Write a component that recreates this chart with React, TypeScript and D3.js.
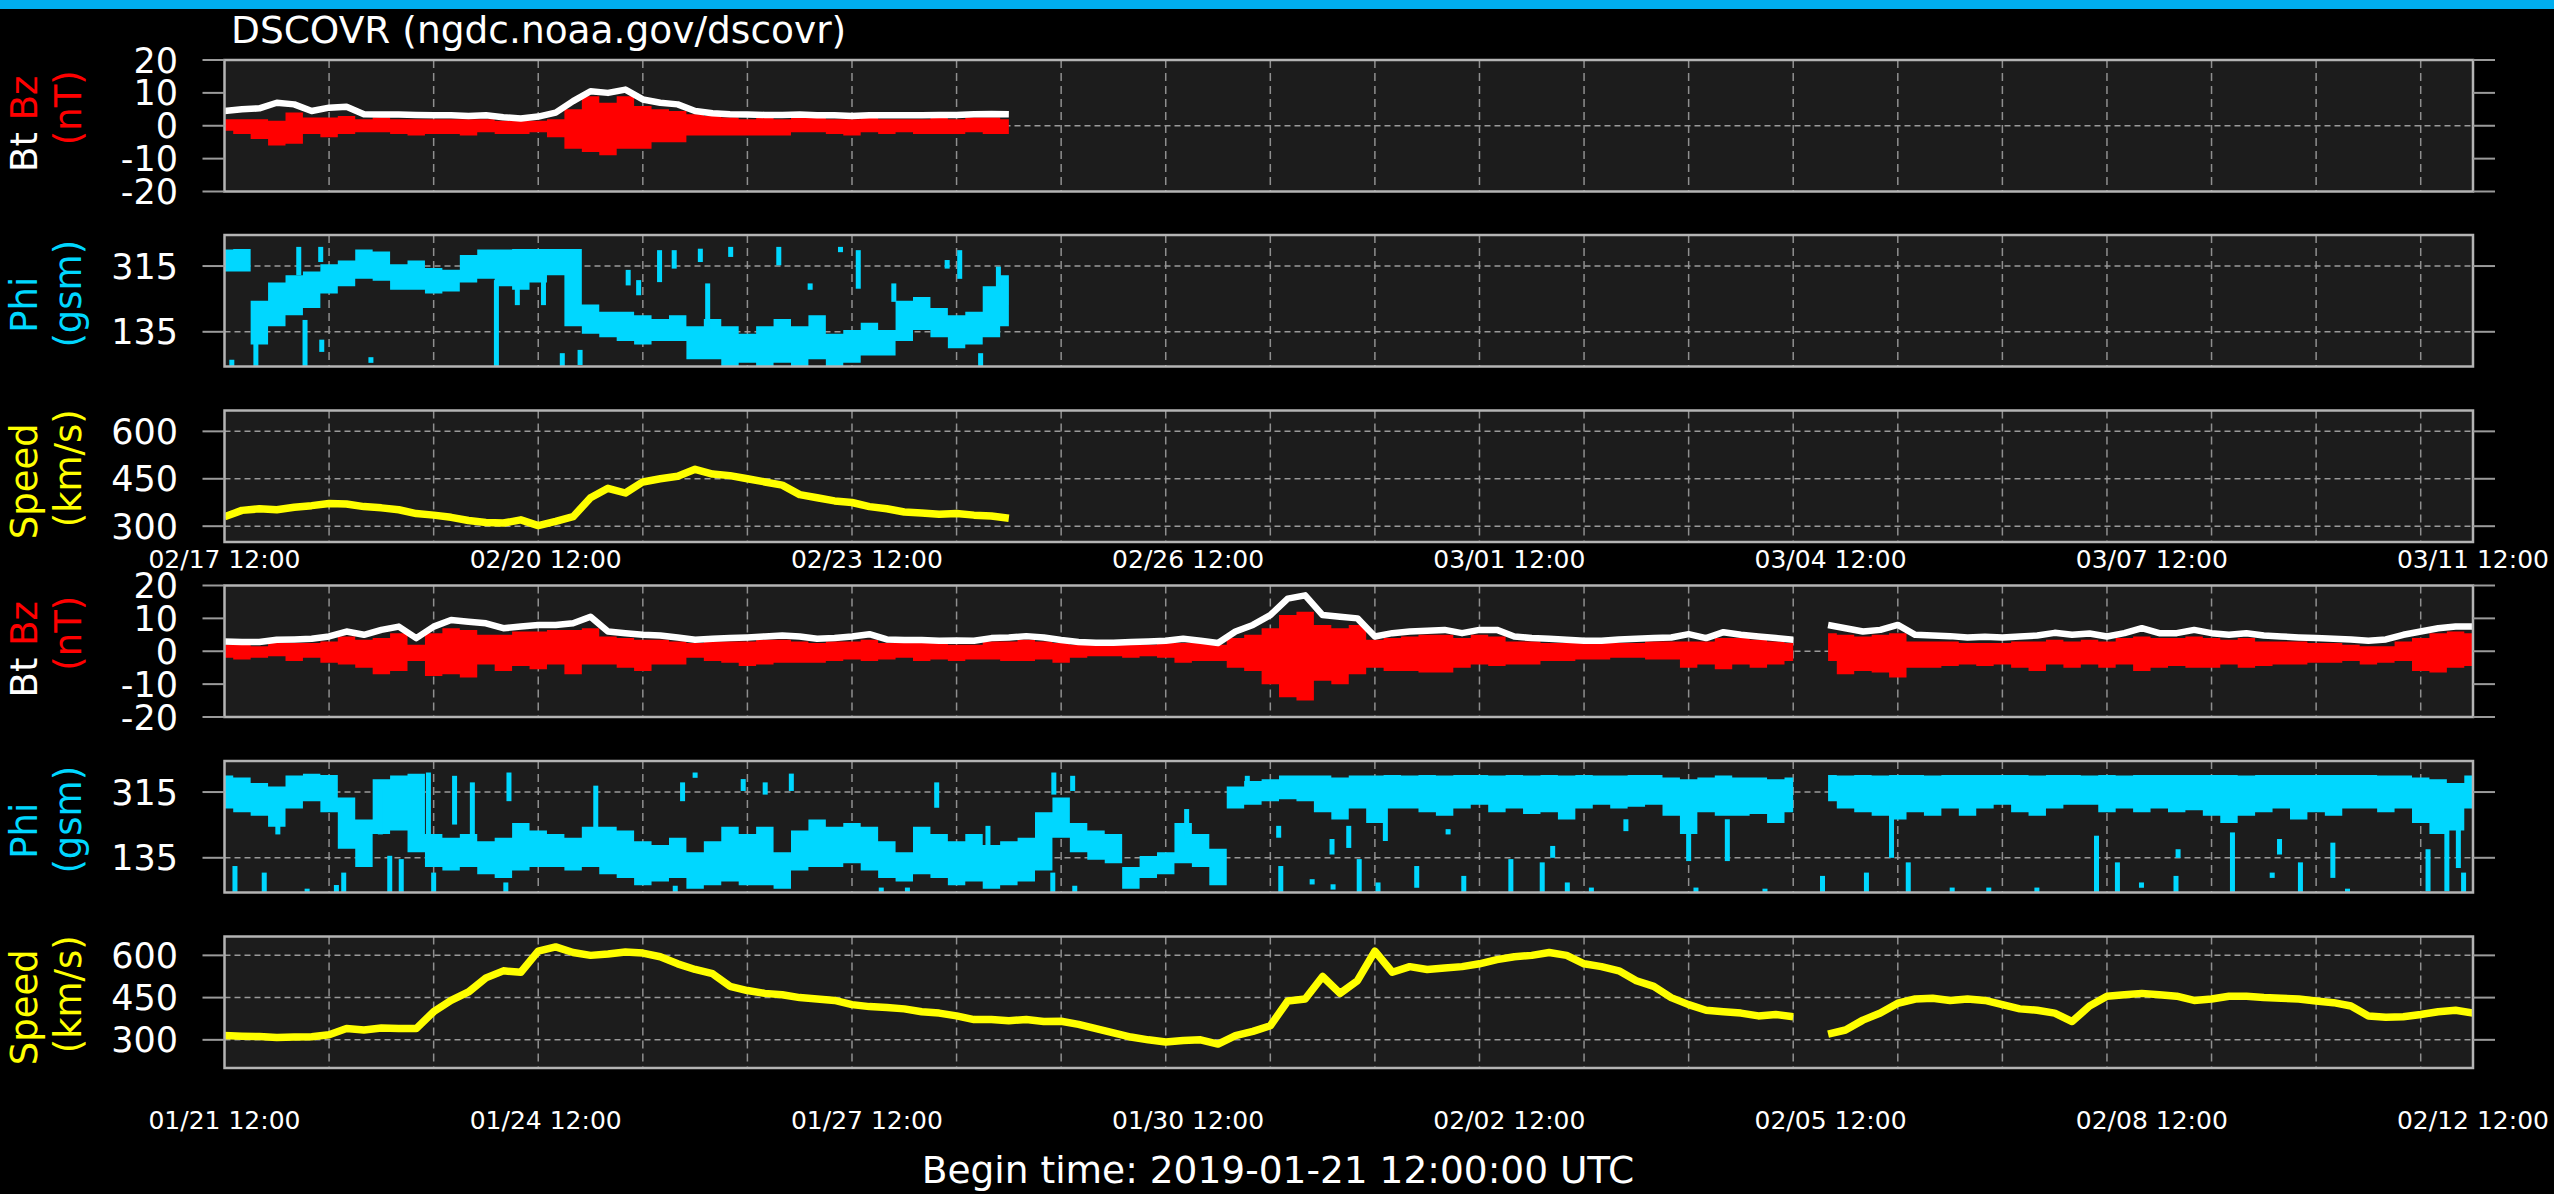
import React from "react";
import * as d3 from "d3";

const WIDTH = 2554;
const HEIGHT = 1194;

// each half covers 21.5 days, values read every 4 hours
const SPAN_DAYS = 21.5;
const STEP_DAYS = 4 / 24;

const title = "DSCOVR (ngdc.noaa.gov/dscovr)";
const beginTime = "Begin time: 2019-01-21 12:00:00 UTC";

const topDateLabels = ["02/17 12:00", "02/20 12:00", "02/23 12:00", "02/26 12:00", "03/01 12:00", "03/04 12:00", "03/07 12:00", "03/11 12:00"];
const bottomDateLabels = ["01/21 12:00", "01/24 12:00", "01/27 12:00", "01/30 12:00", "02/02 12:00", "02/05 12:00", "02/08 12:00", "02/12 12:00"];

const btBzTicks = [20, 10, 0, -10, -20];
const phiTicks = [315, 135];
const speedTicks = [600, 450, 300];

// ---- top half: from 02/17 12:00 (data stops after 7.5 days)
const topSpeed = [330, 350, 355, 352, 360, 365, 372, 370, 362, 358, 352, 340, 335, 328, 318, 312, 310, 320, 302, 315, 330, 390, 420, 405, 440, 450, 458, 480, 465, 460, 450, 440, 430, 400, 390, 380, 375, 362, 355, 345, 342, 338, 340, 335, 332, 325];
const topBt = [4.5, 5, 5.3, 7, 6.5, 4.5, 5.5, 5.8, 3.5, 3.4, 3.4, 3.3, 3.2, 3.2, 3, 3.2, 2.6, 2.2, 2.8, 4, 7.5, 10.5, 10, 11, 8, 7, 6.5, 4.5, 3.8, 3.5, 3.4, 3.3, 3.3, 3.4, 3.2, 3.2, 3, 3.2, 3.2, 3.2, 3.2, 3.3, 3.3, 3.5, 3.6, 3.5];
const topBzLo = [-1.5, -2.5, -4, -6, -5.5, -2.5, -3.5, -2.5, -2, -2, -2.5, -3, -2.5, -2.5, -3, -2, -2.5, -2.5, -2, -3.5, -7, -8, -9, -7, -7, -5, -5, -3, -3, -3, -3, -3, -3, -2, -2, -2.5, -3, -2, -2.5, -2, -2.5, -2.5, -2.5, -2, -2.5, -2.5];
const topBzHi = [2, 2, 2, 1.5, 4, 2.5, 2.5, 3, 2, 2.5, 2, 2, 2, 2, 2, 2, 1.5, 1.5, 1.5, 2, 5, 9, 7, 9, 6, 5, 4.5, 3.5, 3, 2.5, 2, 2.5, 2, 2.5, 2.5, 2, 2, 2.5, 2, 2, 2, 2.5, 2, 2.5, 2.5, 2];
const topPhiLo = [300, 300, 100, 150, 180, 200, 240, 260, 280, 275, 250, 250, 240, 245, 270, 280, 260, 250, 270, 290, 150, 130, 120, 110, 100, 110, 110, 60, 60, 40, 50, 40, 50, 40, 60, 40, 50, 70, 70, 110, 140, 120, 90, 100, 120, 150];
const topPhiHi = [360, 362, 220, 270, 290, 300, 320, 330, 360, 355, 320, 330, 310, 305, 345, 360, 360, 362, 362, 362, 362, 210, 190, 190, 180, 170, 180, 150, 170, 150, 130, 150, 170, 150, 180, 130, 140, 160, 140, 220, 230, 200, 180, 190, 260, 290];
// [day, low, high] stray phi streaks
const topPhiSpecks = [
  [0.07, 40, 53], [0.3, 40, 144], [0.71, 290, 362], [0.77, 40, 162], [0.92, 326, 362], [0.93, 80, 108],
  [1.4, 50, 60], [2.6, 40, 271], [2.8, 208, 271], [3.05, 208, 271], [3.23, 40, 71], [3.4, 44, 80],
  [3.86, 262, 299], [3.96, 235, 271], [4.16, 271, 353], [4.3, 308, 353], [4.55, 326, 357], [4.62, 135, 262],
  [4.84, 340, 362], [5.3, 317, 362], [5.6, 250, 262], [5.89, 353, 362], [6.06, 253, 353], [6.4, 217, 262],
  [6.91, 308, 326], [7.03, 280, 353], [7.23, 40, 71], [7.4, 235, 308], [7.47, 208, 271],
];

// ---- bottom half: from 01/21 12:00
const bottomSpeed = [
  315, 313, 312, 308, 310, 311, 318, 340, 335, 342, 340, 340, 400, 440, 470, 520, 545, 540, 615, 630, 610, 600, 605, 612, 608, 595, 570, 550, 535, 490, 475, 465, 460, 450, 445, 440, 425, 418, 415, 410, 400, 395, 385, 372,
  372, 368, 372, 365, 366, 355, 340, 325, 310, 300, 292, 298, 300, 285, 315, 330, 350, 438, 445, 525, 465, 510, 615, 540, 560, 550, 555, 560, 570, 585, 595, 600, 610, 600, 570, 560, 545, 510, 490, 450, 425, 405, 400,
  395, 385, 390, 382, null, 320, 335, 370, 395, 430, 445, 448, 440, 445, 440, 425, 410, 405, 395, 365, 420, 455, 460, 465, 460, 455, 440, 445, 455, 455, 450, 448, 445, 438, 432, 420, 385, 380, 382, 390, 400, 405, 395,
];
const bottomBt = [
  3, 2.8, 2.8, 3.5, 3.6, 3.8, 4.5, 6, 5, 6.5, 7.5, 4, 7.5, 9.5, 9, 8.5, 7, 7.5, 8, 8, 8.5, 10.5, 6, 5.5, 5, 4.8, 4.2, 3.5, 3.8, 4, 4.2, 4.5, 4.8, 4.5, 3.8, 4, 4.5, 5.2, 3.6, 3.4, 3.4, 3.2, 3.3, 3.2,
  4, 4.2, 4.6, 4.2, 3.4, 2.8, 2.6, 2.6, 2.8, 3, 3.2, 3.8, 3.2, 2.5, 6, 8, 11, 16, 17, 11, 10.5, 10, 4.5, 5.5, 6, 6.2, 6.5, 5.5, 6.5, 6.5, 4.5, 4, 3.8, 3.5, 3.2, 3.2, 3.6, 3.8, 4, 4.2, 5.2, 4, 5.8,
  5, 4.5, 4, 3.5, null, 8, 7, 6, 6.5, 8, 5, 4.8, 4.6, 4.2, 4.4, 4.2, 4.5, 4.8, 5.6, 5, 5.4, 4.5, 5.5, 7, 5.5, 5.5, 6.5, 5.5, 5, 5.5, 4.8, 4.5, 4.2, 4, 3.8, 3.6, 3.2, 3.6, 5, 6, 7, 7.5, 7.5,
];
const bottomBzLo = [
  -2, -2.5, -2, -1.5, -3, -2, -3.5, -4, -5, -7, -6, -3, -7.5, -7, -8, -4, -6, -4.5, -5.5, -4, -7, -4, -4, -5, -6, -4, -4, -2, -3, -3.5, -4.5, -4, -3.5, -3.5, -3.5, -3, -2.5, -3, -2.5, -2, -3, -2.5, -3, -2.5,
  -2.5, -3, -3, -2.5, -3.5, -2, -1.5, -1.5, -2, -1.5, -2, -3.5, -3, -3, -5, -6, -10, -14, -15, -9, -10, -7, -5, -6, -6, -6.5, -6.5, -5, -4, -4.5, -4, -4, -3, -3, -2.5, -2.5, -2, -2, -2.5, -2.5, -5, -4, -5.5,
  -4, -5, -4, -3, null, -3, -7, -6, -6.5, -8, -5, -5, -4.5, -4, -4.5, -4, -5, -6, -4, -5, -4, -5, -4, -6, -5, -4.5, -5, -5, -4, -5, -4.5, -4, -4, -3.5, -3.5, -3, -4, -3.5, -3, -6, -6.5, -5, -4.5,
];
const bottomBzHi = [
  2, 2, 1.5, 2.5, 2.5, 2.5, 3, 4.5, 3.5, 4, 5.5, 2, 5.5, 7, 6.5, 5, 5, 6, 6, 6.5, 6.5, 7, 4.5, 4, 3.5, 3.5, 3, 2.5, 3, 3, 3, 3.5, 3.5, 3, 2.5, 3, 3, 3.5, 2.5, 2.5, 2.5, 2.5, 2, 2,
  3, 3, 3.5, 3, 2.5, 2, 2, 2, 2, 2, 2.5, 2.5, 2.5, 2, 4, 5, 7, 11, 12, 8, 7, 8, 3.5, 4, 4.5, 5, 5, 4, 5, 4.5, 3, 3, 2.5, 2.5, 2.5, 2.5, 2.5, 2.5, 3, 3, 3, 3, 4,
  4, 3.5, 3, 2.5, null, 5.5, 5, 4.5, 5, 5.5, 3, 3, 3, 2.5, 2.5, 2.5, 3, 3, 3.5, 3, 3.5, 3, 4, 4.5, 4, 4, 4.5, 4, 3.5, 4, 3, 3, 3, 2.5, 2.5, 2, 1.5, 1.5, 3, 4, 5.5, 6, 5.5,
];
const bottomPhiLo = [
  270, 260, 250, 220, 270, 290, 260, 160, 110, 200, 210, 150, 110, 100, 110, 90, 80, 100, 110, 110, 100, 110, 90, 80, 60, 70, 80, 50, 60, 70, 60, 60, 50, 100, 110, 110, 120, 100, 80, 70, 90, 80, 60, 70,
  50, 60, 70, 100, 190, 150, 130, 120, 50, 80, 90, 120, 110, 60, 270, 280, 290, 295, 290, 260, 240, 270, 230, 270, 270, 260, 250, 270, 280, 260, 270, 255, 260, 240, 270, 280, 270, 275, 280, 250, 200, 260, 250,
  250, 255, 230, 260, null, 290, 270, 260, 250, 240, 260, 250, 270, 250, 270, 280, 260, 250, 270, 280, 280, 260, 270, 260, 270, 260, 265, 250, 230, 250, 260, 270, 240, 260, 250, 270, 270, 260, 270, 230, 200, 210, 270,
];
const bottomPhiHi = [
  360, 355, 340, 330, 360, 365, 362, 300, 240, 350, 360, 365, 200, 190, 200, 180, 190, 230, 210, 200, 190, 220, 220, 210, 180, 170, 190, 150, 180, 220, 200, 220, 150, 210, 240, 220, 230, 220, 180, 150, 220, 200, 180, 200,
  170, 180, 190, 260, 300, 230, 210, 200, 110, 140, 150, 230, 200, 160, 330, 345, 350, 360, 360, 360, 355, 360, 360, 362, 360, 362, 360, 362, 362, 360, 362, 360, 362, 360, 362, 360, 360, 362, 362, 355, 350, 355, 360,
  355, 355, 350, 355, null, 362, 360, 362, 360, 362, 362, 360, 362, 362, 362, 362, 362, 360, 362, 362, 360, 362, 360, 362, 362, 362, 362, 362, 362, 360, 362, 362, 362, 362, 362, 362, 362, 360, 360, 355, 350, 340, 360,
];
const bottomPhiSpecks = [
  [0.1, 39, 107], [0.38, 39, 89], [0.51, 199, 254], [0.79, 39, 45], [1.07, 39, 55], [1.14, 39, 89], [1.49, 199, 318],
  [1.58, 39, 135], [1.69, 39, 126], [1.95, 199, 363], [2.0, 39, 89], [2.2, 226, 354], [2.37, 126, 336], [2.69, 39, 62],
  [2.72, 290, 363], [3.55, 217, 327], [4.31, 39, 53], [4.38, 290, 336], [4.5, 354, 363], [4.96, 318, 345], [5.17, 308, 336],
  [5.42, 318, 360], [6.28, 39, 48], [6.53, 39, 48], [6.81, 272, 336], [7.3, 126, 217], [7.92, 39, 89], [7.93, 308, 363],
  [8.11, 318, 354], [8.13, 39, 53], [9.2, 190, 263], [9.78, 318, 354], [10.08, 190, 217], [10.1, 39, 107], [10.4, 62, 71],
  [10.59, 144, 181], [10.6, 48, 57], [10.75, 162, 217], [10.85, 39, 126], [11.03, 39, 62], [11.1, 181, 272], [11.4, 53, 107],
  [11.7, 199, 208], [11.85, 39, 80], [12.3, 39, 126], [12.6, 39, 117], [12.7, 135, 162], [12.84, 39, 62], [13.07, 39, 48],
  [13.4, 208, 235], [14.0, 126, 199], [14.07, 39, 48], [14.37, 126, 235], [14.73, 39, 45], [15.28, 39, 80], [15.7, 39, 89],
  [15.94, 135, 272], [16.1, 39, 117], [16.52, 39, 48], [16.87, 39, 48], [17.33, 39, 48], [17.9, 39, 190], [18.1, 39, 117],
  [18.33, 53, 62], [18.66, 39, 80], [18.68, 135, 153], [19.2, 39, 199], [19.58, 80, 89], [19.65, 144, 181], [19.85, 39, 117],
  [20.16, 80, 171], [20.3, 39, 45], [21.07, 43, 153], [21.25, 43, 217], [21.36, 107, 217], [21.41, 39, 89],
];

const topSpeedDomain = [250, 666];
const bottomSpeedDomain = [200, 667];

// layout
const LEFT = 224.5;
const RIGHT = 2473;
const PANEL_H = 131.5;
const FONT = "DejaVu Sans";
const CYAN = "#00d7ff";
const YELLOW = "#ffff00";
const RED = "#ff0000";

const x = d3.scaleLinear().domain([0, SPAN_DAYS]).range([LEFT, RIGHT]);
const dayLines = d3.range(1, 22);

const series = (vals) => vals.map((v, i) => ({ t: i * STEP_DAYS, v }));
const band = (lo, hi) => lo.map((l, i) => ({ t: i * STEP_DAYS, lo: l, hi: hi[i] }));

const lineFor = (y) =>
  d3.line().defined((d) => d.v != null).x((d) => x(d.t)).y((d) => y(d.v));
const areaFor = (y) =>
  d3
    .area()
    .defined((d) => d.lo != null)
    .x((d) => x(d.t))
    .y0((d) => y(d.lo))
    .y1((d) => y(d.hi))
    .curve(d3.curveStep);

const Panel = ({ id, top, y, ticks, grid, label, labelOffsets, children }) => {
  const cy = top + PANEL_H / 2;
  return (
    <g>
      <rect x={LEFT} y={top} width={RIGHT - LEFT} height={PANEL_H} fill="#1c1c1c" />
      {dayLines.map((d) => (
        <line key={d} x1={x(d)} x2={x(d)} y1={top} y2={top + PANEL_H} stroke="#8f8f8f" strokeWidth={1.5} strokeDasharray="8,5" />
      ))}
      {grid.map((v) => (
        <line key={v} x1={LEFT} x2={RIGHT} y1={y(v)} y2={y(v)} stroke="#9a9a9a" strokeWidth={1.5} strokeDasharray="6,4" />
      ))}
      <clipPath id={id}>
        <rect x={LEFT} y={top} width={RIGHT - LEFT} height={PANEL_H} />
      </clipPath>
      <g clipPath={`url(#${id})`}>{children}</g>
      <rect x={LEFT} y={top} width={RIGHT - LEFT} height={PANEL_H} fill="none" stroke="#b4b4b4" strokeWidth={2.5} />
      {ticks.map((v) => (
        <g key={v}>
          <line x1={LEFT - 22} x2={LEFT} y1={y(v)} y2={y(v)} stroke="#9a9a9a" strokeWidth={2} />
          <line x1={RIGHT} x2={RIGHT + 22} y1={y(v)} y2={y(v)} stroke="#9a9a9a" strokeWidth={2} />
          <text x={178} y={y(v)} dy="0.36em" textAnchor="end" fill="#fff" fontSize={35} fontFamily={FONT}>
            {v}
          </text>
        </g>
      ))}
      <text transform={`translate(37,${cy + labelOffsets[0]}) rotate(-90)`} textAnchor="middle" fontSize={37} fontFamily={FONT}>
        {label[0].map(([s, c], i) => (
          <tspan key={i} fill={c}>
            {s}
          </tspan>
        ))}
      </text>
      <text transform={`translate(81,${cy + labelOffsets[1]}) rotate(-90)`} textAnchor="middle" fontSize={37} fontFamily={FONT} fill={label[2]}>
        {label[1]}
      </text>
    </g>
  );
};

const Group = ({ tops, speed, bt, bzLo, bzHi, phiLo, phiHi, specks, speedDomain, dateLabels, dateY, key0 }) => {
  const yB = d3.scaleLinear().domain([-20, 20]).range([tops[0] + PANEL_H, tops[0]]);
  const yP = d3.scaleLinear().domain([40, 400]).range([tops[1] + PANEL_H, tops[1]]);
  const yS = d3.scaleLinear().domain(speedDomain).range([tops[2] + PANEL_H, tops[2]]);
  return (
    <g>
      <Panel
        id={`${key0}-b`}
        top={tops[0]}
        y={yB}
        ticks={btBzTicks}
        grid={[0]}
        labelOffsets={[-2, -18]}
        label={[[["Bt ", "#fff"], ["Bz", RED]], "(nT)", RED]}
      >
        <path d={areaFor(yB)(band(bzLo, bzHi))} fill={RED} />
        <path d={lineFor(yB)(series(bt))} fill="none" stroke="#fff" strokeWidth={6.5} strokeLinejoin="round" />
      </Panel>
      <Panel
        id={`${key0}-p`}
        top={tops[1]}
        y={yP}
        ticks={phiTicks}
        grid={phiTicks}
        labelOffsets={[4, -7]}
        label={[[["Phi", CYAN]], "(gsm)", CYAN]}
      >
        <path d={areaFor(yP)(band(phiLo, phiHi))} fill={CYAN} />
        {specks.map(([t, lo, hi], i) => (
          <rect key={i} x={x(t) - 2.5} width={5} y={yP(hi) - 2} height={Math.max(4, yP(lo) - yP(hi) + 2)} fill={CYAN} />
        ))}
      </Panel>
      <Panel
        id={`${key0}-s`}
        top={tops[2]}
        y={yS}
        ticks={speedTicks}
        grid={speedTicks}
        labelOffsets={[5, -8]}
        label={[[["Speed", YELLOW]], "(km/s)", YELLOW]}
      >
        <path d={lineFor(yS)(series(speed))} fill="none" stroke={YELLOW} strokeWidth={7.5} strokeLinejoin="round" />
      </Panel>
      {dateLabels.map((s, i) => (
        <text key={s} x={x((i * SPAN_DAYS) / (dateLabels.length - 1))} y={dateY} textAnchor="middle" fill="#fff" fontSize={25} fontFamily={FONT}>
          {s}
        </text>
      ))}
    </g>
  );
};

export default function App() {
  return (
    <svg width={WIDTH} height={HEIGHT} style={{ position: "absolute", left: 0, top: 0, background: "#000" }}>
      <rect width={WIDTH} height={HEIGHT} fill="#000" />
      <rect width={WIDTH} height={9} fill="#00aeef" />
      <text x={231} y={43} fill="#fff" fontSize={37.5} fontFamily={FONT}>
        {title}
      </text>
      <Group
        key0="top"
        tops={[60, 235, 410.5]}
        speed={topSpeed}
        bt={topBt}
        bzLo={topBzLo}
        bzHi={topBzHi}
        phiLo={topPhiLo}
        phiHi={topPhiHi}
        specks={topPhiSpecks}
        speedDomain={topSpeedDomain}
        dateLabels={topDateLabels}
        dateY={568}
      />
      <Group
        key0="bot"
        tops={[585.5, 761, 936.5]}
        speed={bottomSpeed}
        bt={bottomBt}
        bzLo={bottomBzLo}
        bzHi={bottomBzHi}
        phiLo={bottomPhiLo}
        phiHi={bottomPhiHi}
        specks={bottomPhiSpecks}
        speedDomain={bottomSpeedDomain}
        dateLabels={bottomDateLabels}
        dateY={1129}
      />
      <text x={1278} y={1183} textAnchor="middle" fill="#fff" fontSize={37.5} fontFamily={FONT}>
        {beginTime}
      </text>
    </svg>
  );
}
